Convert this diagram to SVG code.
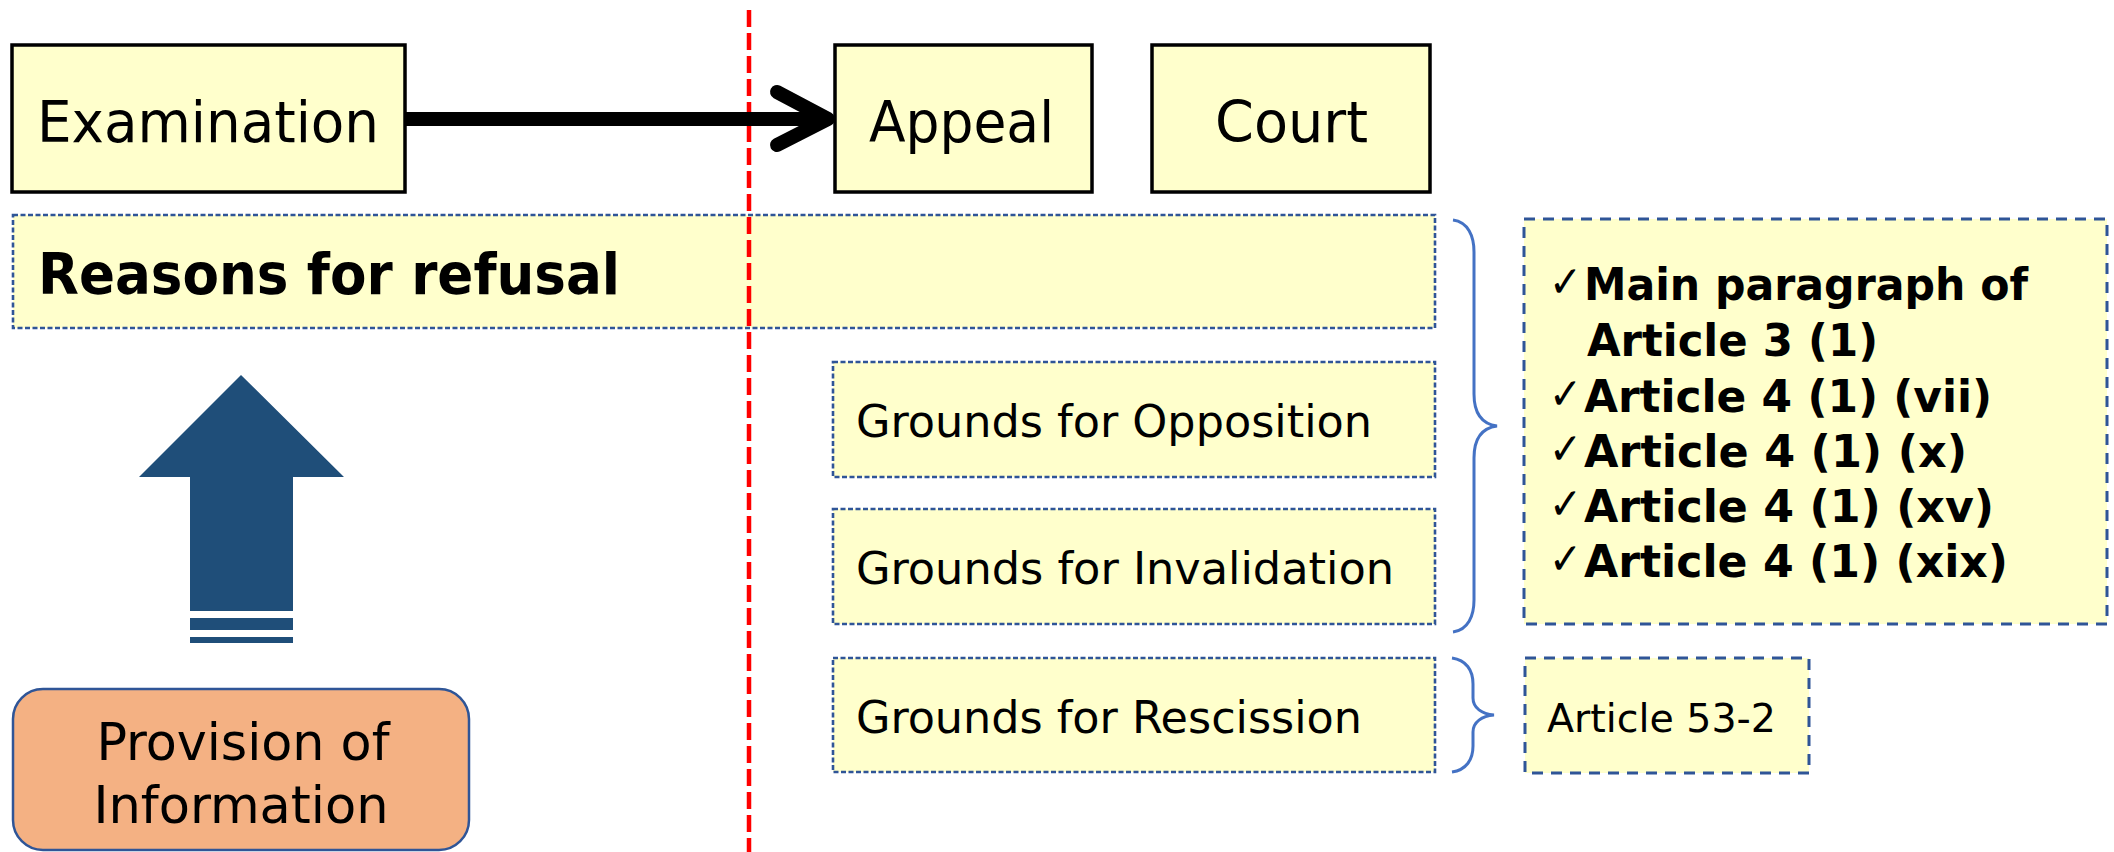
<svg xmlns="http://www.w3.org/2000/svg" width="2114" height="852" viewBox="0 0 2114 852">
<style>
text{font-family:"DejaVu Sans Condensed","DejaVu Sans","Noto Sans",sans-serif;fill:#000}
.solid{fill:#FFFFCC;stroke:#000;stroke-width:3.5}
.thin{fill:#FFFFCC;stroke:#2F5597;stroke-width:2.6;stroke-dasharray:5 2.5}
.thick{fill:#FFFFCC;stroke:#2F5597;stroke-width:3;stroke-dasharray:11 8}
.brace{fill:none;stroke:#4472C4;stroke-width:3}
.big{font-size:57px}
.mid{font-size:45px}
.lst{font-size:44px;font-weight:bold}
.chk{font-size:44px}
</style>
<g id="reasons">
<rect class="thin" x="13" y="215" width="1422" height="113"/>
<text class="big" x="38" y="294" font-weight="bold" textLength="582" lengthAdjust="spacingAndGlyphs">Reasons for refusal</text>
</g>
<g id="examination">
<rect class="solid" x="12" y="45" width="393" height="147"/>
<text class="big" x="37" y="142" textLength="342" lengthAdjust="spacingAndGlyphs">Examination</text>
</g>
<g id="appeal">
<rect class="solid" x="835" y="45" width="257" height="147"/>
<text class="big" x="869" y="142" textLength="185" lengthAdjust="spacingAndGlyphs">Appeal</text>
</g>
<g id="court">
<rect class="solid" x="1152" y="45" width="278" height="147"/>
<text class="big" x="1215" y="142" textLength="153" lengthAdjust="spacingAndGlyphs">Court</text>
</g>
<g id="opposition">
<rect class="thin" x="833" y="362" width="602" height="115"/>
<text class="mid" x="856" y="437" textLength="516" lengthAdjust="spacingAndGlyphs">Grounds for Opposition</text>
</g>
<g id="invalidation">
<rect class="thin" x="833" y="509" width="602" height="115"/>
<text class="mid" x="856" y="584" textLength="538" lengthAdjust="spacingAndGlyphs">Grounds for Invalidation</text>
</g>
<g id="rescission">
<rect class="thin" x="833" y="658" width="602" height="114"/>
<text class="mid" x="856" y="733" textLength="506" lengthAdjust="spacingAndGlyphs">Grounds for Rescission</text>
</g>
<g id="articles">
<rect class="thick" x="1524" y="219" width="583" height="405"/>
<text class="chk" x="1549" y="297" textLength="33" lengthAdjust="spacingAndGlyphs">✓</text>
<text class="lst" x="1584" y="300" textLength="444" lengthAdjust="spacingAndGlyphs">Main paragraph of</text>
<text class="lst" x="1587" y="356" textLength="291" lengthAdjust="spacingAndGlyphs">Article 3 (1)</text>
<text class="chk" x="1549" y="409" textLength="33" lengthAdjust="spacingAndGlyphs">✓</text>
<text class="lst" x="1584" y="412" textLength="408" lengthAdjust="spacingAndGlyphs">Article 4 (1) (vii)</text>
<text class="chk" x="1549" y="464" textLength="33" lengthAdjust="spacingAndGlyphs">✓</text>
<text class="lst" x="1584" y="467" textLength="383" lengthAdjust="spacingAndGlyphs">Article 4 (1) (x)</text>
<text class="chk" x="1549" y="519" textLength="33" lengthAdjust="spacingAndGlyphs">✓</text>
<text class="lst" x="1584" y="522" textLength="410" lengthAdjust="spacingAndGlyphs">Article 4 (1) (xv)</text>
<text class="chk" x="1549" y="574" textLength="33" lengthAdjust="spacingAndGlyphs">✓</text>
<text class="lst" x="1584" y="577" textLength="424" lengthAdjust="spacingAndGlyphs">Article 4 (1) (xix)</text>
</g>
<g id="article53">
<rect class="thick" x="1525" y="658" width="284" height="115"/>
<text x="1547" y="732" font-size="39" textLength="229" lengthAdjust="spacingAndGlyphs">Article 53-2</text>
</g>
<g id="provision">
<rect x="13" y="689" width="456" height="161" rx="30" ry="30" fill="#F4B183" stroke="#2F5597" stroke-width="2.5"/>
<text x="243" y="760" font-size="51" text-anchor="middle" textLength="293" lengthAdjust="spacingAndGlyphs">Provision of</text>
<text x="241" y="823" font-size="51" text-anchor="middle" textLength="295" lengthAdjust="spacingAndGlyphs">Information</text>
</g>
<g id="connectors">
<line x1="749" y1="10" x2="749" y2="852" stroke="#FF0000" stroke-width="4.5" stroke-dasharray="17 6"/>
<line x1="405" y1="119" x2="828" y2="119" stroke="#000" stroke-width="14"/>
<polyline points="777,92 828,119 777,145" fill="none" stroke="#000" stroke-width="14" stroke-linecap="round" stroke-linejoin="round"/>
<path class="brace" d="M1453,220 C1468,222 1474,236 1474,252 L1474,394 C1474,414 1482,424 1497,426 C1482,428 1474,438 1474,458 L1474,600 C1474,616 1468,630 1453,632"/>
<path class="brace" d="M1452,658 C1466,660 1473,670 1473,684 L1473,698 C1473,708 1482,714 1494,715 C1482,716 1473,722 1473,732 L1473,746 C1473,760 1466,770 1452,772"/>
<polygon points="241,375 344,477 293,477 293,611 190,611 190,477 139,477" fill="#1F4E79"/>
<rect x="190" y="618" width="103" height="12" fill="#1F4E79"/>
<rect x="190" y="637" width="103" height="6" fill="#1F4E79"/>
</g>
</svg>
